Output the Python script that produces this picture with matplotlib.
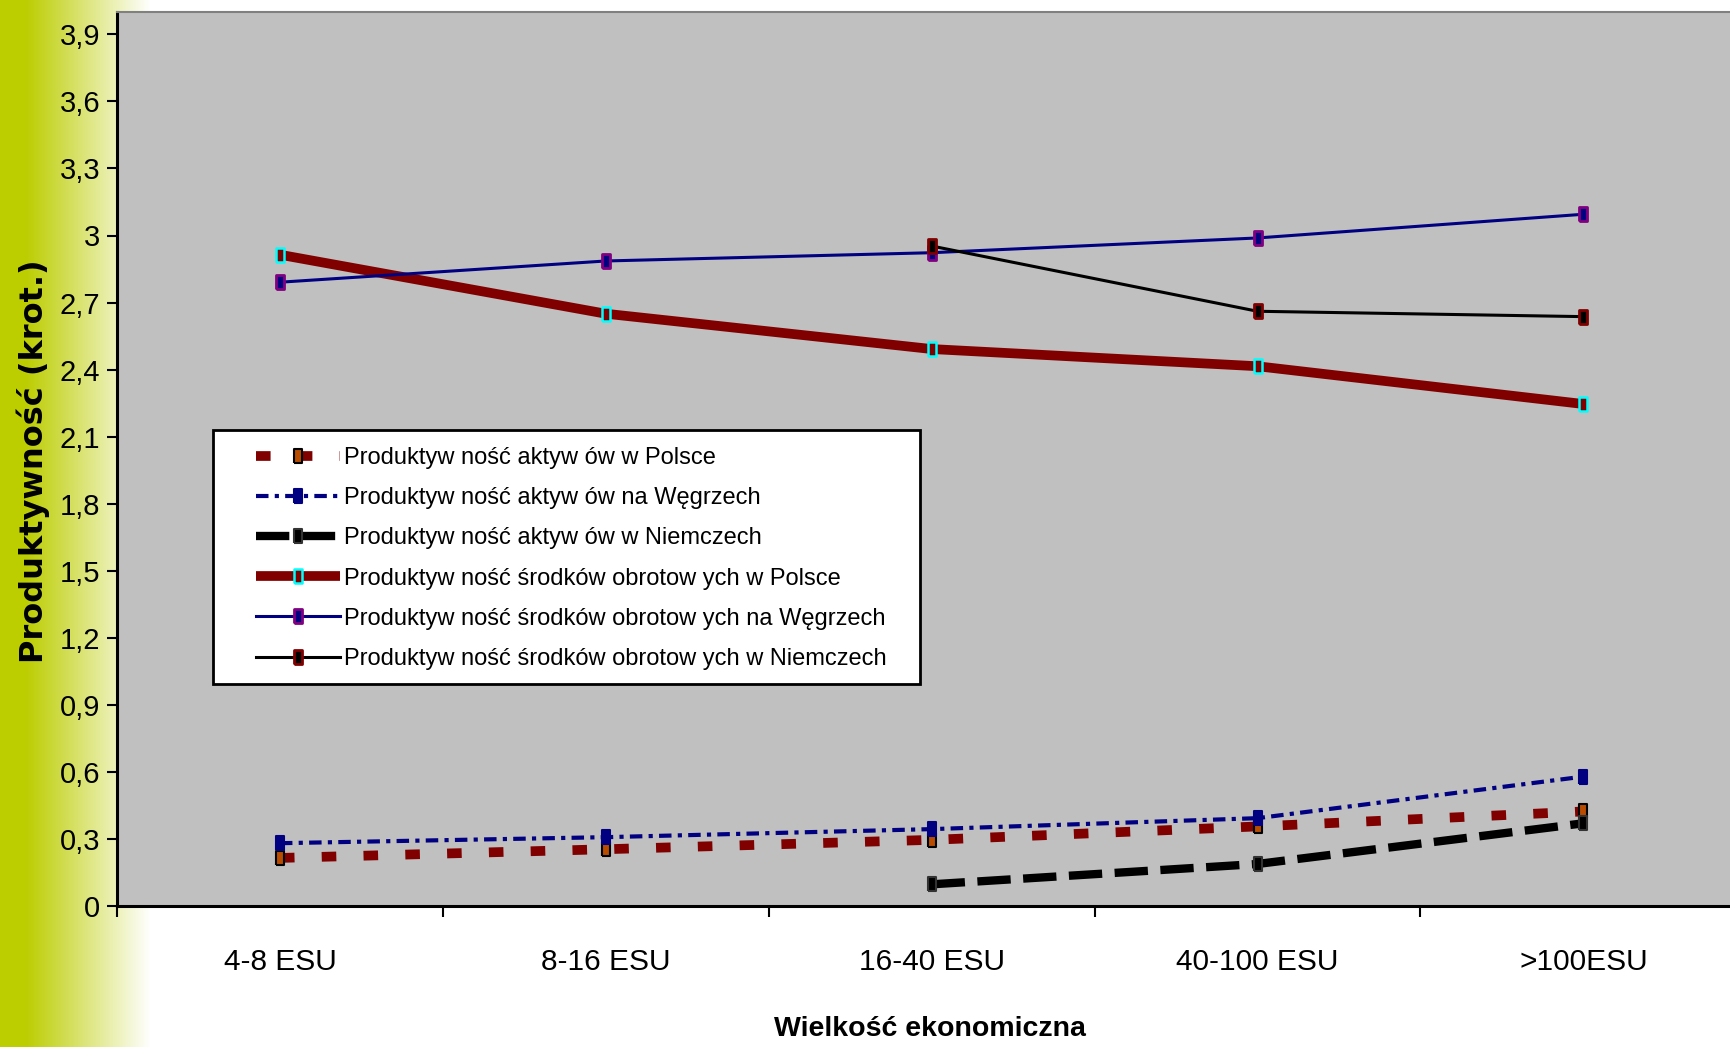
import numpy as np
import matplotlib
matplotlib.use('Agg')
import matplotlib.pyplot as plt
from matplotlib.patches import Rectangle

plt.rcParams['font.family'] = ['Liberation Sans', 'DejaVu Sans']

categories = ['4-8 ESU', '8-16 ESU', '16-40 ESU', '40-100 ESU', '>100ESU']
pl_aktywa = [0.215, 0.254, 0.296, 0.356, 0.423]
hu_aktywa = [0.281, 0.308, 0.344, 0.393, 0.579]
de_aktywa = [np.nan, np.nan, 0.097, 0.188, 0.370]
pl_srodki = [2.914, 2.650, 2.492, 2.415, 2.246]
hu_srodki = [2.791, 2.886, 2.923, 2.989, 3.095]
de_srodki = [np.nan, np.nan, 2.953, 2.661, 2.637]
labels = ['Produktyw ność aktyw ów w Polsce',
          'Produktyw ność aktyw ów na Węgrzech',
          'Produktyw ność aktyw ów w Niemczech',
          'Produktyw ność środków obrotow ych w Polsce',
          'Produktyw ność środków obrotow ych na Węgrzech',
          'Produktyw ność środków obrotow ych w Niemczech']
yticks = np.round(np.arange(14) * 0.3, 1)

W, H = 1730, 1047
fig = plt.figure(figsize=(W / 100, H / 100), dpi=100, facecolor='white')

# green gradient on the left edge
gw = 160
xs = np.arange(gw)
t = np.clip((xs - 25) / 125.0, 0, 1)
left = np.array([188, 205, 0]) / 255.0
row = left[None, :] * (1 - t[:, None]) + t[:, None]
grad = np.repeat(row[None, :, :], H, axis=0)
fig.figimage(grad, xo=0, yo=0, zorder=-1)

ax = fig.add_axes([117 / W, 141 / H, 1 - 117 / W, 894 / H])
ax.set_facecolor('#c0c0c0')

rect = [(-0.3, -0.5), (0.3, -0.5), (0.3, 0.5), (-0.3, 0.5), (-0.3, -0.5)]
x = np.arange(len(categories))

ax.plot(x, pl_aktywa, color='#800000', lw=7, linestyle=(0, (1.5, 2.8)),
        marker=rect, ms=10, mfc='#b84c00', mec='black', mew=1.5, label=labels[0], zorder=3)
ax.plot(x, hu_aktywa, color='#000080', lw=3, linestyle=(0, (3, 1.5, 1, 1.5)),
        marker=rect, ms=10, mfc='#000080', mec='#000080', mew=1.5, label=labels[1], zorder=3)
ax.plot(x, de_aktywa, color='black', lw=6, linestyle=(0, (4, 1.5)),
        marker=rect, ms=10, mfc='black', mec='#333333', mew=1.5, label=labels[2], zorder=3)
ax.plot(x, pl_srodki, color='#800000', lw=7, solid_capstyle='butt',
        marker=rect, ms=10, mfc='#800000', mec='#00ffff', mew=1.8, label=labels[3], zorder=3)
ax.plot(x, hu_srodki, color='#000080', lw=2.2,
        marker=rect, ms=10, mfc='#000080', mec='#800080', mew=2, label=labels[4], zorder=3)
ax.plot(x, de_srodki, color='black', lw=2.2,
        marker=rect, ms=10, mfc='black', mec='#800000', mew=2, label=labels[5], zorder=3)

ax.set_xlim(-0.5, 4.45)
ax.set_ylim(0, 4.0)

ax.set_yticks(yticks)
ax.set_yticklabels([('%g' % v).replace('.', ',') for v in yticks], fontsize=21)
ax.tick_params(axis='y', direction='out', length=7, width=1.5, pad=5)

ax.set_xticks(np.arange(-0.5, 4.5, 1.0))
ax.set_xticks(x, minor=True)
ax.set_xticklabels(categories, minor=True, fontsize=21.5)
ax.tick_params(axis='x', which='major', direction='out', length=8, width=1.5, labelbottom=False)
ax.tick_params(axis='x', which='minor', length=0, pad=30)

for s in ['left', 'bottom']:
    ax.spines[s].set_linewidth(2.2)
    ax.spines[s].set_color('black')
ax.spines['top'].set_color('#808080')
ax.spines['top'].set_linewidth(1.5)
ax.spines['right'].set_visible(False)

# legend with hand-placed frame
ax.add_patch(Rectangle((213 / W, 1 - 684 / H), 707 / W, 254 / H, transform=fig.transFigure,
                       facecolor='white', edgecolor='black', lw=2, zorder=4.5, clip_on=False))
leg = ax.legend(loc='upper left', bbox_to_anchor=(256 / W, 1 - 447 / H), bbox_transform=fig.transFigure,
                frameon=False, borderpad=0, borderaxespad=0, handlelength=3.55, handletextpad=0.18,
                labelspacing=0.77, prop={'size': 17})
leg.set_zorder(5)

fig.text(33 / W, 1 - 461 / H, 'Produktywność (krot.)', rotation=90, ha='center', va='center',
         fontsize=23, fontweight='bold', fontfamily='DejaVu Sans')
fig.text(930 / W, 1 - 1029 / H, 'Wielkość ekonomiczna', ha='center', va='center',
         fontsize=20.5, fontweight='bold')

fig.savefig('out.png', dpi=100, facecolor='white')
